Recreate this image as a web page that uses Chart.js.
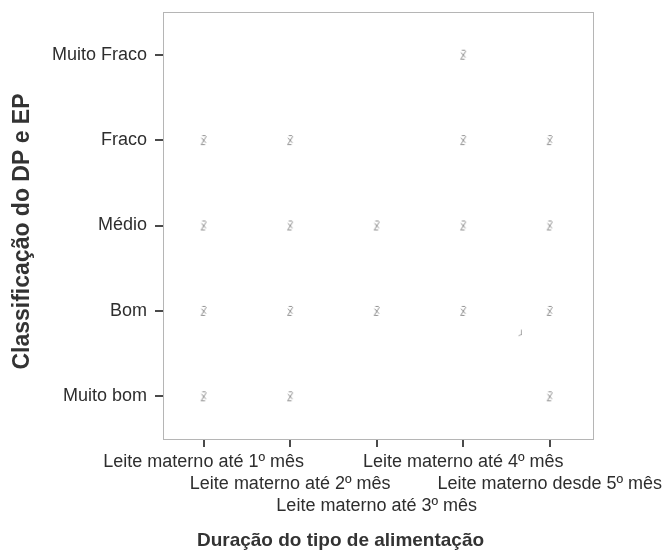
<!DOCTYPE html>
<html>
<head>
<meta charset="utf-8">
<script src="https://cdn.jsdelivr.net/npm/chart.js@4/dist/chart.umd.min.js"></script>
<style>
  html, body { margin: 0; padding: 0; background: #fff; }
  #wrap { width: 669px; height: 551px; }
</style>
</head>
<body>
<div id="wrap"><canvas id="c" width="669" height="551"></canvas></div>
<script>
// Feeding type (x) and DP/EP classification (y)
const feedingTypes = [
  ['Leite materno até 1º mês'],
  ['', 'Leite materno até 2º mês'],
  ['', '', 'Leite materno até 3º mês'],
  ['Leite materno até 4º mês'],
  ['', 'Leite materno desde 5º mês']
];
const ratingLabels = ['Muito bom', 'Bom', 'Médio', 'Fraco', 'Muito Fraco'];
const xTitle = 'Duração do tipo de alimentação';
const yTitle = 'Classificação do DP e EP';

// Observed combinations: [feeding index, rating index]
const observedPairs = [
  [3, 4],
  [0, 3], [1, 3], [3, 3], [4, 3],
  [0, 2], [1, 2], [2, 2], [3, 2], [4, 2],
  [0, 1], [1, 1], [2, 1], [3, 1], [4, 1],
  [0, 0], [1, 0], [4, 0]
];
const looseMark = [[3.66, 0.74]];

const FONT = '"Liberation Sans", Arial, sans-serif';

// small grey scribble used as the point glyph
function makeGlyph(w, h, strokes, color) {
  const cv = document.createElement('canvas');
  cv.width = w; cv.height = h;
  const g = cv.getContext('2d');
  g.strokeStyle = color;
  g.lineWidth = 1;
  g.lineCap = 'round';
  strokes.forEach(s => {
    g.beginPath();
    g.moveTo(s[0], s[1]);
    g.lineTo(s[2], s[3]);
    g.stroke();
  });
  return cv;
}
const glyph = makeGlyph(8, 12, [
  [1.5, 10.5, 6.5, 2.5],
  [2, 4, 6, 8.5],
  [3, 1.5, 5.5, 1.5],
  [2.5, 10.5, 5, 10.5]
], 'rgba(110,110,110,0.75)');
const smallGlyph = makeGlyph(5, 8, [
  [3.5, 1, 3.5, 5.5],
  [3.5, 5.5, 1, 6.5]
], 'rgba(130,130,130,0.7)');

// plot frame and the two axis captions
const frame = {
  id: 'frame',
  afterDraw(chart) {
    const a = chart.chartArea;
    const ctx = chart.ctx;
    ctx.save();
    ctx.strokeStyle = '#b5b5b5';
    ctx.lineWidth = 1;
    ctx.strokeRect(Math.round(a.left) + 0.5, Math.round(a.top) + 0.5,
                   Math.round(a.right - a.left), Math.round(a.bottom - a.top));
    ctx.fillStyle = '#333';
    ctx.textAlign = 'center';
    ctx.textBaseline = 'middle';
    ctx.font = 'bold 19px ' + FONT;
    ctx.fillText(xTitle, chart.width / 2 + 6, chart.height - 10);
    ctx.translate(23, (a.top + a.bottom) / 2 + 6);
    ctx.rotate(-Math.PI / 2);
    ctx.font = 'bold 23px ' + FONT;
    ctx.fillText(yTitle, 0, 0);
    ctx.restore();
  }
};

new Chart(document.getElementById('c'), {
  type: 'scatter',
  data: {
    datasets: [
      {
        data: observedPairs.map(p => ({ x: p[0], y: p[1] })),
        pointStyle: glyph,
        pointRadius: 5
      },
      {
        data: looseMark.map(p => ({ x: p[0], y: p[1] })),
        pointStyle: smallGlyph,
        pointRadius: 3
      }
    ]
  },
  options: {
    responsive: false,
    animation: false,
    events: [],
    layout: { padding: { left: 0, right: 76, top: 12, bottom: 0 } },
    plugins: { legend: { display: false }, tooltip: { enabled: false } },
    scales: {
      x: {
        type: 'linear',
        min: -0.47,
        max: 4.5,
        afterBuildTicks(s) { s.ticks = feedingTypes.map((_, i) => ({ value: i })); },
        afterFit(s) { s.height = 112; s.paddingLeft = 0; s.paddingRight = 0; },
        border: { display: true, color: '#b5b5b5', width: 1 },
        grid: { drawOnChartArea: false, drawTicks: true, tickLength: 8, color: '#4a4a4a', lineWidth: 2 },
        ticks: {
          autoSkip: false,
          maxRotation: 0,
          minRotation: 0,
          padding: 4,
          color: '#2e2e2e',
          font: { family: FONT, size: 18, lineHeight: 1.222 },
          callback: v => feedingTypes[v]
        },
        title: { display: false }
      },
      y: {
        type: 'linear',
        min: -0.5,
        max: 4.5,
        afterBuildTicks(s) { s.ticks = ratingLabels.map((_, i) => ({ value: i })); },
        afterFit(s) { s.width = 163; s.paddingTop = 0; s.paddingBottom = 0; },
        border: { display: true, color: '#b5b5b5', width: 1 },
        grid: { drawOnChartArea: false, drawTicks: true, tickLength: 8, color: '#4a4a4a', lineWidth: 2 },
        ticks: {
          padding: 8,
          color: '#2e2e2e',
          font: { family: FONT, size: 18 },
          callback: v => ratingLabels[v]
        },
        title: { display: false }
      }
    }
  },
  plugins: [frame]
});
</script>
</body>
</html>
